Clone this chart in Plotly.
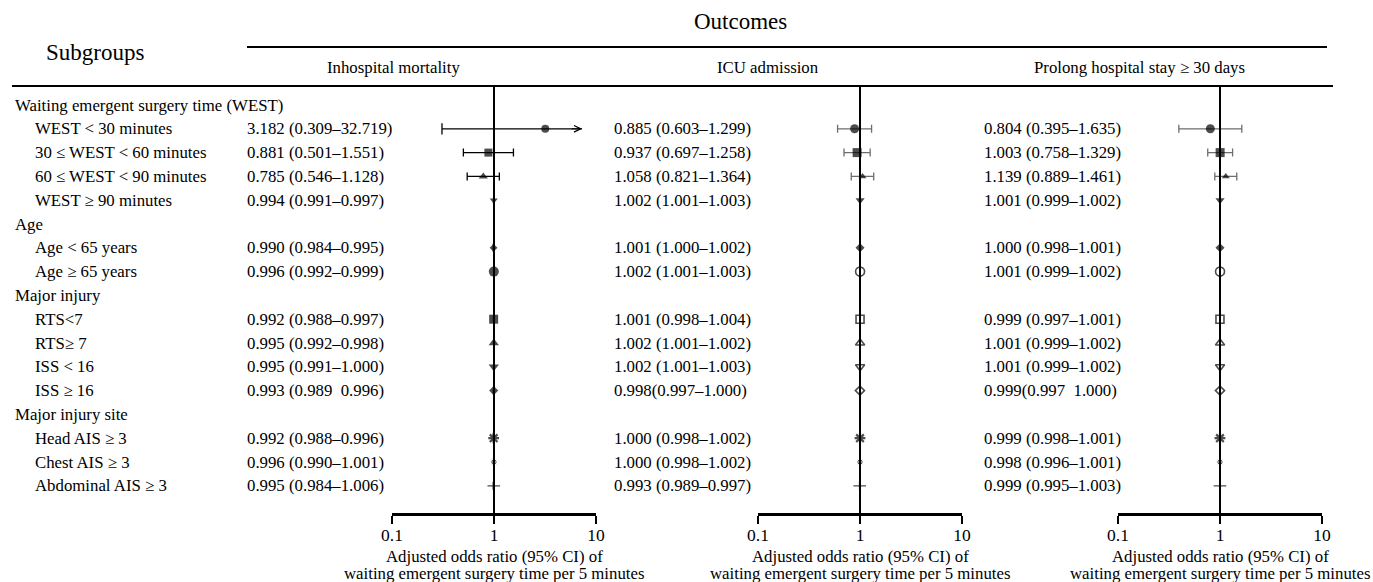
import math
import plotly.graph_objects as go

# ---------------- data ----------------
row_labels = [
    "Waiting emergent surgery time (WEST)",
    "WEST < 30 minutes",
    "30 ≤ WEST < 60 minutes",
    "60 ≤ WEST < 90 minutes",
    "WEST ≥ 90 minutes",
    "Age",
    "Age < 65 years",
    "Age ≥ 65 years",
    "Major injury",
    "RTS<7",
    "RTS≥ 7",
    "ISS < 16",
    "ISS ≥ 16",
    "Major injury site",
    "Head AIS ≥ 3",
    "Chest AIS ≥ 3",
    "Abdominal AIS ≥ 3",
]
row_is_header = [True, False, False, False, False, True, False, False, True,
                 False, False, False, False, True, False, False, False]

outcomes = ["Inhospital mortality", "ICU admission", "Prolong hospital stay ≥ 30 days"]

# Inhospital mortality
mort_or = [3.182, 0.881, 0.785, 0.994, 0.990, 0.996, 0.992, 0.995, 0.995, 0.993, 0.992, 0.996, 0.995]
mort_lo = [0.309, 0.501, 0.546, 0.991, 0.984, 0.992, 0.988, 0.992, 0.991, 0.989, 0.988, 0.990, 0.984]
mort_hi = [32.719, 1.551, 1.128, 0.997, 0.995, 0.999, 0.997, 0.998, 1.000, 0.996, 0.996, 1.001, 1.006]
mort_txt = ["3.182 (0.309–32.719)", "0.881 (0.501–1.551)", "0.785 (0.546–1.128)", "0.994 (0.991–0.997)",
            "0.990 (0.984–0.995)", "0.996 (0.992–0.999)", "0.992 (0.988–0.997)", "0.995 (0.992–0.998)",
            "0.995 (0.991–1.000)", "0.993 (0.989  0.996)", "0.992 (0.988–0.996)", "0.996 (0.990–1.001)",
            "0.995 (0.984–1.006)"]

# ICU admission
icu_or = [0.885, 0.937, 1.058, 1.002, 1.001, 1.002, 1.001, 1.002, 1.002, 0.998, 1.000, 1.000, 0.993]
icu_lo = [0.603, 0.697, 0.821, 1.001, 1.000, 1.001, 0.998, 1.001, 1.001, 0.997, 0.998, 0.998, 0.989]
icu_hi = [1.299, 1.258, 1.364, 1.003, 1.002, 1.003, 1.004, 1.002, 1.003, 1.000, 1.002, 1.002, 0.997]
icu_txt = ["0.885 (0.603–1.299)", "0.937 (0.697–1.258)", "1.058 (0.821–1.364)", "1.002 (1.001–1.003)",
           "1.001 (1.000–1.002)", "1.002 (1.001–1.003)", "1.001 (0.998–1.004)", "1.002 (1.001–1.002)",
           "1.002 (1.001–1.003)", "0.998(0.997–1.000)", "1.000 (0.998–1.002)", "1.000 (0.998–1.002)",
           "0.993 (0.989–0.997)"]

# Prolonged hospital stay >= 30 days
stay_or = [0.804, 1.003, 1.139, 1.001, 1.000, 1.001, 0.999, 1.001, 1.001, 0.999, 0.999, 0.998, 0.999]
stay_lo = [0.395, 0.758, 0.889, 0.999, 0.998, 0.999, 0.997, 0.999, 0.999, 0.997, 0.998, 0.996, 0.995]
stay_hi = [1.635, 1.329, 1.461, 1.002, 1.001, 1.002, 1.001, 1.002, 1.002, 1.000, 1.001, 1.001, 1.003]
stay_txt = ["0.804 (0.395–1.635)", "1.003 (0.758–1.329)", "1.139 (0.889–1.461)", "1.001 (0.999–1.002)",
            "1.000 (0.998–1.001)", "1.001 (0.999–1.002)", "0.999 (0.997–1.001)", "1.001 (0.999–1.002)",
            "1.001 (0.999–1.002)", "0.999(0.997  1.000)", "0.999 (0.998–1.001)", "0.998 (0.996–1.001)",
            "0.999 (0.995–1.003)"]

tick_vals = [0.1, 1, 10]
tick_text = ["0.1", "1", "10"]
axis_title_lines = ["Adjusted odds ratio (95% CI) of", "waiting emergent surgery time per 5 minutes"]

# ---------------- styles ----------------
W, H = 1373, 582
FONT = "Liberation Serif, Times New Roman, serif"
ROW0_PX, ROW_STEP, AXIS_PX, TOPLINE_PX = 105, 23.8, 513, 86
ARROW_TIP = 7.3  # where a truncated CI arrow is drawn to

panel_dom_px = [(392, 596), (758, 962), (1118, 1322)]
value_x_px = [245, 612, 982]
col_head_px = [393, 768, 1139]

sym_a = ["circle", "square", "triangle-up", "triangle-down", "diamond", "circle", "square",
         "triangle-up", "triangle-down", "diamond", "asterisk-open", "asterisk-open", "cross-thin-open"]
sym_b = ["circle", "square", "triangle-up", "triangle-down", "diamond", "circle-open", "square-open",
         "triangle-up-open", "triangle-down-open", "diamond-open", "asterisk-open", "asterisk-open",
         "cross-thin-open"]
size_a = [8, 8, 8, 7, 6, 10, 9, 9, 9, 7, 9, 5, 9]
size_b = [9, 9, 7, 8, 7, 9, 8, 8, 8, 7, 9, 5, 9]
lw_a = [0, 0, 0, 0, 0, 0, 0, 0, 0, 0, 2.2, 1.0, 1.2]
lw_b = [0, 0, 0, 0, 0, 1.6, 1.6, 1.6, 1.6, 1.6, 2.2, 1.0, 1.2]

panels = [
    dict(o=mort_or, lo=mort_lo, hi=mort_hi, txt=mort_txt, sym=sym_a, size=size_a, lw=lw_a, ci="#000000"),
    dict(o=icu_or, lo=icu_lo, hi=icu_hi, txt=icu_txt, sym=sym_b, size=size_b, lw=lw_b, ci="#6e6e6e"),
    dict(o=stay_or, lo=stay_lo, hi=stay_hi, txt=stay_txt, sym=sym_b, size=size_b, lw=lw_b, ci="#6e6e6e"),
]

def px(x):
    return x / W

def py(y):
    return 1 - y / H

def row_of_px(y):
    return (y - ROW0_PX) / ROW_STEP

item_rows = [i for i, h in enumerate(row_is_header) if not h]
y_bottom = row_of_px(AXIS_PX)
y_top = row_of_px(0)

fig = go.Figure()
annotations = []
layout_axes = {}

for k, p in enumerate(panels):
    xa = "x" if k == 0 else f"x{k+1}"
    xname = "xaxis" if k == 0 else f"xaxis{k+1}"
    xmax = tick_vals[-1]
    ok = [h <= xmax for h in p["hi"]]

    # CI whiskers (non-truncated)
    fig.add_trace(go.Scatter(
        x=[o if g else None for o, g in zip(p["o"], ok)],
        y=[r if g else None for r, g in zip(item_rows, ok)],
        mode="markers", marker=dict(size=0.1, color="rgba(0,0,0,0)"),
        error_x=dict(type="data", symmetric=False,
                     array=[(h - o) if g else 0 for o, h, g in zip(p["o"], p["hi"], ok)],
                     arrayminus=[(o - l) if g else 0 for o, l, g in zip(p["o"], p["lo"], ok)],
                     color=p["ci"], thickness=1.3, width=4),
        xaxis=xa, yaxis="y", hoverinfo="skip", showlegend=False))

    # truncated CIs: shaft + lower cap + arrow head
    for o, l, h, r, g in zip(p["o"], p["lo"], p["hi"], item_rows, ok):
        if g:
            continue
        fig.add_trace(go.Scatter(x=[l, ARROW_TIP], y=[r, r], mode="lines",
                                 line=dict(color=p["ci"], width=1.3),
                                 xaxis=xa, yaxis="y", hoverinfo="skip", showlegend=False))
        fig.add_trace(go.Scatter(x=[l], y=[r], mode="markers",
                                 marker=dict(symbol="line-ns-open", size=8, color=p["ci"],
                                             line=dict(color=p["ci"], width=1.3)),
                                 xaxis=xa, yaxis="y", hoverinfo="skip", showlegend=False))
        annotations.append(dict(x=math.log10(ARROW_TIP), y=r, xref=xa, yref="y", text="",
                                showarrow=True, arrowhead=5, arrowsize=1.3, arrowwidth=1,
                                arrowcolor=p["ci"], ax=-12, ay=0))

    # reference line at OR = 1
    fig.add_trace(go.Scatter(x=[1, 1], y=[row_of_px(TOPLINE_PX), y_bottom], mode="lines",
                             line=dict(color="#000000", width=2),
                             xaxis=xa, yaxis="y", hoverinfo="skip", showlegend=False))

    # point estimates
    fig.add_trace(go.Scatter(
        x=p["o"], y=item_rows, mode="markers",
        marker=dict(symbol=p["sym"], size=p["size"], color="#000000",
                    line=dict(color="#000000", width=p["lw"])),
        xaxis=xa, yaxis="y", hoverinfo="skip", showlegend=False, cliponaxis=False))

    d0, d1 = panel_dom_px[k]
    layout_axes[xname] = dict(
        type="log", range=[math.log10(tick_vals[0]), math.log10(tick_vals[-1])],
        domain=[px(d0), px(d1)], anchor="y", automargin=False,
        tickvals=tick_vals, ticktext=tick_text, ticks="outside", ticklen=8, tickwidth=2,
        tickcolor="#000000", showline=True, linewidth=2.5, linecolor="#000000",
        showgrid=False, zeroline=False, tickfont=dict(family=FONT, size=17.5, color="#000000"),
        fixedrange=True)

    # value text column
    for r, t in zip(item_rows, p["txt"]):
        annotations.append(dict(x=px(value_x_px[k]), y=r, xref="paper", yref="y", text=t,
                                showarrow=False, xanchor="left", yanchor="middle",
                                font=dict(family=FONT, size=16.8, color="#000000")))
    # column header
    annotations.append(dict(x=px(col_head_px[k]), y=py(67), xref="paper", yref="paper",
                            text=outcomes[k], showarrow=False, xanchor="center", yanchor="middle",
                            font=dict(family=FONT, size=16.8, color="#000000")))
    # axis title (two lines)
    cx = px((d0 + d1) / 2)
    for line, ypx in zip(axis_title_lines, [556, 573]):
        annotations.append(dict(x=cx, y=py(ypx), xref="paper", yref="paper", text=line,
                                showarrow=False, xanchor="center", yanchor="middle",
                                font=dict(family=FONT, size=16.8, color="#000000")))

# subgroup labels
for r, (lab, hdr) in enumerate(zip(row_labels, row_is_header)):
    annotations.append(dict(x=px(13 if hdr else 33), y=r, xref="paper", yref="y", text=lab,
                            showarrow=False, xanchor="left", yanchor="middle",
                            font=dict(family=FONT, size=16.8, color="#000000")))

# big headers
annotations.append(dict(x=px(95), y=py(52), xref="paper", yref="paper", text="Subgroups",
                        showarrow=False, xanchor="center", yanchor="middle",
                        font=dict(family=FONT, size=23, color="#000000")))
annotations.append(dict(x=px(740), y=py(22), xref="paper", yref="paper", text="Outcomes",
                        showarrow=False, xanchor="center", yanchor="middle",
                        font=dict(family=FONT, size=23, color="#000000")))

shapes = [
    dict(type="line", xref="paper", yref="paper", x0=px(247), x1=px(1327), y0=py(47), y1=py(47),
         line=dict(color="#000000", width=2)),
    dict(type="line", xref="paper", yref="paper", x0=px(12), x1=px(1333), y0=py(86), y1=py(86),
         line=dict(color="#000000", width=2)),
]

fig.update_layout(
    width=W, height=H, margin=dict(l=0, r=0, t=0, b=0, autoexpand=False),
    paper_bgcolor="#ffffff", plot_bgcolor="rgba(0,0,0,0)",
    showlegend=False,
    yaxis=dict(domain=[py(AXIS_PX), 1], range=[y_bottom, y_top], visible=False, fixedrange=True,
               automargin=False),
    annotations=annotations, shapes=shapes,
    font=dict(family=FONT, color="#000000"),
    **layout_axes,
)

try:
    fig.update_xaxes(ticklabelstandoff=-4)
except Exception:
    pass

fig.write_html(
    "out.html",
    config={"displayModeBar": False},
    post_script="document.body.style.margin='0';document.body.style.overflow='hidden';"
                "document.documentElement.style.overflow='hidden';",
)
